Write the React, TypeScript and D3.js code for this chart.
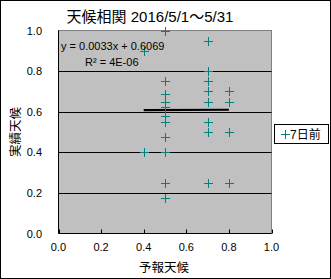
import React from "react";
import * as d3 from "d3";

const xValues = [0.4, 0.4, 0.5, 0.5, 0.5, 0.5, 0.5, 0.5, 0.5, 0.5, 0.5, 0.5, 0.5, 0.7, 0.7, 0.7, 0.7, 0.7, 0.7, 0.7, 0.7, 0.8, 0.8, 0.8, 0.8];
const yValues = [0.9, 0.4, 1.0, 0.75, 0.6875, 0.65, 0.625, 0.58, 0.55, 0.475, 0.4, 0.25, 0.175, 0.95, 0.8, 0.75, 0.7, 0.65, 0.55, 0.5, 0.25, 0.7, 0.65, 0.5, 0.25];
const xTicks = [0, 0.2, 0.4, 0.6, 0.8, 1.0];
const yTicks = [0, 0.2, 0.4, 0.6, 0.8, 1.0];
const gridValues = [0.2, 0.4, 0.6, 0.8];
const slope = 0.0033;
const intercept = 0.6069;
const trendRange = [0.4, 0.8];
const title = "天候相関 2016/5/1～5/31";
const xTitle = "予報天候";
const yTitle = "実績天候";
const seriesName = "7日前";
const eqText = "y = 0.0033x + 0.6069";
const r2Text = "R² = 4E-06";

const W = 331;
const H = 279;
const latin = "'Liberation Sans', Arial, 'Noto Sans CJK JP', sans-serif";
const teal = "#008080";

export default function App() {
  const x = d3.scaleLinear().domain([0, 1]).range([58.5, 271.5]);
  const y = d3.scaleLinear().domain([0, 1]).range([233.5, 30.5]);
  const line = d3.line<number>().x((d) => x(d)).y((d) => y(slope * d + intercept));
  const cross = (cx: number, cy: number, k: string | number) => (
    <path key={k} d={`M${cx - 4.5},${cy}H${cx + 4.5}M${cx},${cy - 4.5}V${cy + 4.5}`} stroke={teal} strokeWidth={1} fill="none" />
  );
  return (
    <svg width={W} height={H} style={{ position: "absolute", left: 0, top: 0 }}>
      <rect x={0.5} y={0.5} width={W - 1} height={H - 1} fill="#fff" stroke="#000" />
      <rect x={x(0)} y={y(1)} width={x(1) - x(0)} height={y(0) - y(1)} fill="#c0c0c0" stroke="#808080" />
      {gridValues.map((g) => (
        <line key={g} x1={x(0)} x2={x(1)} y1={Math.round(y(g)) + 0.5} y2={Math.round(y(g)) + 0.5} stroke="#000" />
      ))}
      <line x1={x(0)} x2={x(0)} y1={y(1)} y2={y(0)} stroke="#000" />
      <line x1={x(0)} x2={x(1)} y1={y(0)} y2={y(0)} stroke="#000" />
      {xTicks.map((t) => (
        <line key={t} x1={Math.round(x(t)) + 0.5} x2={Math.round(x(t)) + 0.5} y1={y(0) - 4} y2={y(0)} stroke="#000" />
      ))}
      {xTicks.map((t) => (
        <text key={"xl" + t} x={x(t)} y={251} textAnchor="middle" fontFamily={latin} fontSize={11} fill="#000">
          {d3.format(".1f")(t)}
        </text>
      ))}
      {yTicks.map((t) => (
        <text key={"yl" + t} x={42} y={y(t) + 4} textAnchor="end" fontFamily={latin} fontSize={11} fill="#000">
          {d3.format(".1f")(t)}
        </text>
      ))}
      <path d={line(trendRange) || ""} stroke="#000" strokeWidth={2.2} fill="none" />
      {xValues.map((xv, i) => cross(Math.round(x(xv)) + 0.5, Math.round(y(yValues[i])) + 0.5, i))}
      <text x={61} y={50} fontFamily={latin} fontSize={11} fill="#000">{eqText}</text>
      <text x={85} y={66} fontFamily={latin} fontSize={11} fill="#000">{r2Text}</text>
      <text x={150} y={22} textAnchor="middle" fontFamily={latin} fontSize={15} fill="#000">{title}</text>
      <text x={164} y={272} textAnchor="middle" fontFamily={latin} fontSize={12.5} fill="#000">{xTitle}</text>
      <text transform={`translate(20,${(y(0) + y(1)) / 2}) rotate(-90)`} textAnchor="middle" fontFamily={latin} fontSize={12.5} fill="#000">{yTitle}</text>
      <rect x={274.5} y={124.5} width={54} height={19} fill="#fff" stroke="#000" />
      {cross(285.5, 134.5, "leg")}
      <text x={290} y={139} fontFamily={latin} fontSize={12} fill="#000">{seriesName}</text>
    </svg>
  );
}
